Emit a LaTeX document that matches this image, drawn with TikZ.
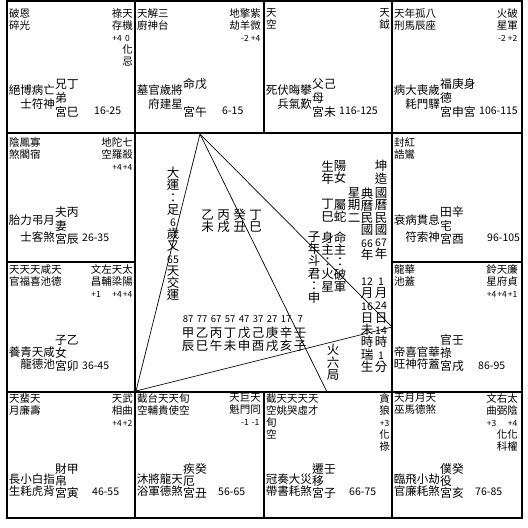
\documentclass[tikz,border=0pt]{standalone}
\usepackage{fontspec}
\newfontfamily\cjk{Noto Sans CJK TC}
\usetikzlibrary{positioning}

% brightness digits, one star column wide
\newcommand{\lit}[1]{\makebox[10.5pt]{\fontsize{8.5}{10}\selectfont#1}}
% one decade column
\newcommand{\yr}[1]{\makebox[14pt]{#1}}
\newcommand{\gap}{\hspace{3.5pt}}
\newcommand{\dg}[1]{{\fontsize{10.5}{12}\selectfont#1}}

% one palace, upper part: name, x, minor stars, major stars, age, age x
\newcommand{\palace}[6]{%
  \node[minor, anchor=north west] (#1-minor) at (#2+2,\ty) {#3};
  \node[major, anchor=north east] (#1-major) at (#2+126,\ty) {#4};
  \node[age, anchor=west] (#1-age) at (#2+#6,\ay) {#5};
}
% one palace, lower part: name, x, two shensha lines, three palace lines
\newcommand{\gong}[7]{%
  \node[shensha, anchor=east] (#1-sha1) at (#2+48,\sy) {#3};
  \node[shensha, anchor=east] (#1-sha2) at (#2+48,\sy+\sl) {#4};
  \node[gongming, anchor=west] (#1-g1) at (#2+48,\py) {#5};
  \node[gongming, anchor=west] (#1-g2) at (#2+48,\py+\pl) {#6};
  \node[gongming, anchor=west] (#1-g3) at (#2+48,\py+2*\pl) {#7};
}

\begin{document}
\begin{tikzpicture}[
    x=1pt, y=-1pt,
    minor/.style={inner sep=0pt, align=left, font=\cjk\fontsize{10.5}{12}\selectfont},
    major/.style={inner sep=0pt, align=right, font=\cjk\fontsize{10.5}{12}\selectfont},
    shensha/.style={inner sep=0pt, font=\cjk\fontsize{11.5}{13}\selectfont},
    gongming/.style={inner sep=0pt, font=\cjk\fontsize{11.8}{13}\selectfont},
    age/.style={inner sep=0pt, font=\cjk\fontsize{10.5}{12}\selectfont},
    txt/.style={inner sep=0pt, font=\cjk\fontsize{12.5}{12.4}\selectfont},
    vcol/.style={inner sep=0pt, align=center, anchor=north, font=\cjk\fontsize{12.5}{12.3}\selectfont},
    grid/.style={line width=1.8pt},
    sanfang/.style={line width=0.7pt}
]
\useasboundingbox (0,0) rectangle (528,528);

% palace grid
\draw[grid] (7,1) rectangle (522,518);
\draw[grid] (7,133) -- (522,133);
\draw[grid] (7,392) -- (522,392);
\draw[grid] (135,1) -- (135,518);
\draw[grid] (392,1) -- (392,518);
\draw[grid] (264,1) -- (264,133);
\draw[grid] (264,392) -- (264,518);
\draw[grid] (7,262) -- (135,262);
\draw[grid] (392,262) -- (522,262);

% top row
\def\ty{8}\def\ay{111}\def\py{84}\def\pl{14}\def\sy{90}\def\sl{14}
\palace{si}{7}{破恩\\碎光}{祿天\\存機\\\lit{+4}\lit{0}\\化\\忌}{16-25}{87}
\gong{si}{7}{絕博病亡}{士符神}{兄丁}{弟}{宮巳}
\palace{wu}{135}{天解三\\廚神台}{地擎紫\\劫羊微\\\lit{-2}\lit{+4}}{6-15}{87}
\gong{wu}{135}{墓官歲將}{府建星}{命戊}{}{宮午}
\palace{wei}{264}{天\\空}{天\\鉞}{116-125}{75}
\gong{wei}{264}{死伏晦攀}{兵氣歎}{父己}{母}{宮未}
\palace{shen}{392}{天年孤八\\刑馬辰座}{火破\\星軍\\\lit{-2}\lit{+2}}{106-115}{87}
\gong{shen}{392}{病大喪歲}{耗門驛}{福庚身}{德}{宮申宮}

% second row
\def\ty{137}\def\ay{238}\def\py{212}\def\pl{13.5}\def\sy{220}\def\sl{17}
\palace{chen}{7}{陰鳳寡\\煞閣宿}{地陀七\\空羅殺\\\lit{+4}\lit{+4}}{26-35}{75}
\gong{chen}{7}{胎力弔月}{士客煞}{夫丙}{妻}{宮辰}
\palace{you}{392}{封紅\\誥鸞}{}{96-105}{95}
\gong{you}{392}{衰病貫息}{符索神}{田辛}{宅}{宮酉}

% third row
\def\ty{264}\def\ay{366}\def\py{340}\def\pl{13}\def\sy{352}\def\sl{12}
\palace{mao}{7}{天天天咸天\\官福喜池德}{文左天太\\昌輔梁陽\\\lit{+1}\lit{}\lit{+4}\lit{+4}}{36-45}{75}
\gong{mao}{7}{養青天咸}{龍德池}{子乙}{女}{宮卯}
\palace{xu}{392}{龍華\\池蓋}{鈴天廉\\星府貞\\\lit{+4}\lit{+4}\lit{+1}}{86-95}{86}
\gong{xu}{392}{帝喜官華}{旺神符蓋}{官壬}{祿}{宮戌}

% bottom row
\def\ty{393.5}\def\ay{492}\def\py{469}\def\pl{12}\def\sy{479}\def\sl{12}
\palace{yin}{7}{天蜚天\\月廉壽}{天武\\相曲\\\lit{+4}\lit{+2}}{46-55}{85}
\gong{yin}{7}{長小白指}{生耗虎背}{財甲}{帛}{宮寅}
\palace{chou}{135}{截台天天旬\\空輔貴使空}{天巨天\\魁門同\\\lit{-1}\lit{-1}}{56-65}{83}
\gong{chou}{135}{沐將龍天}{浴軍德煞}{疾癸}{厄}{宮丑}
\palace{zi}{264}{截天天天天\\空姚哭虛才\\旬\\空}{貪\\狼\\\lit{+3}\\化\\祿}{66-75}{85}
\gong{zi}{264}{冠奏大災}{帶書耗煞}{遷壬}{移}{宮子}
\palace{hai}{392}{天月月天\\巫馬德煞}{文右太\\曲弼陰\\\lit{+3}\lit{}\lit{+4}\\化化\\科權}{76-85}{83}
\gong{hai}{392}{臨飛小劫}{官廉耗煞}{僕癸}{役}{宮亥}

% san fang si zheng lines
\coordinate (ming) at (200,134);
\coordinate (cai) at (136,391);
\coordinate (guan) at (392,327);
\coordinate (qian) at (327,392);
\draw[sanfang] (ming) -- (cai) -- (guan) -- cycle;
\draw[sanfang] (ming) -- (qian);

% centre text
\node[vcol, font=\cjk\fontsize{12.5}{12.2}\selectfont] (qiyun) at (173,167) {大\\運\\：\\足\\\dg{6}\\歲\\又\\\dg{65}\\天\\交\\運};
\node[txt, align=center, anchor=north, font=\cjk\fontsize{12.5}{11.8}\selectfont] (sizhu) at (231.5,209) {乙\gap{}丙\gap{}癸\gap{}丁\\未\gap{}戌\gap{}丑\gap{}巳};
\node[txt, anchor=north west, font=\cjk\fontsize{9.5}{10}\selectfont] (dy-age) at (181,315) {\yr{87}\yr{77}\yr{67}\yr{57}\yr{47}\yr{37}\yr{27}\yr{17}\yr{7}};
\node[txt, anchor=north west] (dy-gan) at (181,326.3) {\yr{甲}\yr{乙}\yr{丙}\yr{丁}\yr{戊}\yr{己}\yr{庚}\yr{辛}\yr{壬}};
\node[txt, anchor=north west] (dy-zhi) at (181,339.3) {\yr{辰}\yr{巳}\yr{午}\yr{未}\yr{申}\yr{酉}\yr{戌}\yr{亥}\yr{子}};

% birth data columns
\node[vcol] (kun) at (381,160.3) {坤\\造};
\node[vcol] (guoli) at (381,187.3) {國\\曆\\民\\國\\\dg{67}\\年};
\node[vcol] (guoli-t) at (381,277.6) {\dg{1}\\月\\\dg{24}\\日\\\dg{14}\\時\\\dg{1}\\分};
\node[vcol] (nongli) at (367,187.3) {典\\曆\\民\\國\\\dg{66}\\年};
\node[vcol] (nongli-t) at (367,277.6) {\dg{12}\\月\\\dg{16}\\日\\未\\時\\瑞\\生};
\node[vcol] (xingqi) at (354,187.3) {星\\期\\二};
\node[vcol] (yangnv) at (340,160.3) {陽\\女};
\node[vcol] (shuse) at (340,199.3) {屬\\蛇};
\node[vcol] (mingzhu) at (340,231.3) {命\\主\\：\\破\\軍};
\node[vcol] (shengnian) at (327.5,160.3) {生\\年};
\node[vcol] (dingsi) at (327.5,199.3) {丁\\巳};
\node[vcol] (shenzhu) at (327.5,231.3) {身\\主\\：\\火\\星};
\node[vcol] (doujun) at (314,231.3) {子\\年\\斗\\君\\：\\申};
\node[vcol] (wuxing) at (333,344.3) {火\\六\\局};

\end{tikzpicture}
\end{document}
